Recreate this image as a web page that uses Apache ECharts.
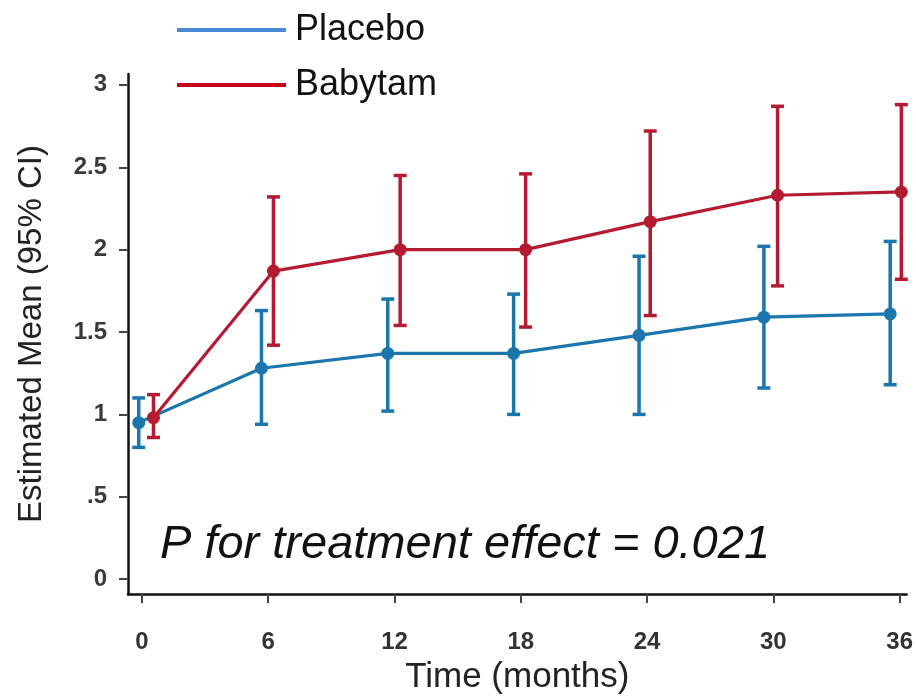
<!DOCTYPE html>
<html>
<head>
<meta charset="utf-8">
<script src="https://cdn.jsdelivr.net/npm/echarts@6/dist/echarts.min.js"></script>
<style>html,body{margin:0;padding:0;background:#fff}#c{width:916px;height:700px}</style>
</head>
<body>
<div id="c"></div>
<script>
// Data
const xTicks = [0, 6, 12, 18, 24, 30, 36];
const yTicks = [0, 0.5, 1, 1.5, 2, 2.5, 3];
const yTickLabels = ['0', '.5', '1', '1.5', '2', '2.5', '3'];

// x positions (months, slightly dodged as in the figure)
const placeboX = [-0.15, 5.68, 11.68, 17.66, 23.62, 29.55, 35.55];
const babytamX = [0.55, 6.25, 12.27, 18.23, 24.15, 30.2, 36.08];

const placeboMean = [0.95, 1.28, 1.37, 1.37, 1.48, 1.59, 1.61];
const placeboLow  = [0.80, 0.94, 1.02, 1.00, 1.00, 1.16, 1.18];
const placeboHigh = [1.10, 1.63, 1.70, 1.73, 1.96, 2.02, 2.05];

const babytamMean = [0.98, 1.87, 2.00, 2.00, 2.17, 2.33, 2.35];
const babytamLow  = [0.86, 1.42, 1.54, 1.53, 1.60, 1.78, 1.82];
const babytamHigh = [1.12, 2.32, 2.45, 2.46, 2.72, 2.87, 2.88];

const placeboColor = '#1a76ad';
const babytamColor = '#b41b32';

const zip2 = (xs, ys) => xs.map((x, i) => [x, ys[i]]);
const zip3 = (xs, lo, hi) => xs.map((x, i) => [x, lo[i], hi[i]]);

function errRender(color) {
  return function (params, api) {
    const x = api.value(0);
    const p1 = api.coord([x, api.value(1)]);
    const p2 = api.coord([x, api.value(2)]);
    const hw = 6.5;
    const st = { stroke: color, lineWidth: 3.5 };
    return {
      type: 'group',
      children: [
        { type: 'line', shape: { x1: p1[0], y1: p1[1], x2: p2[0], y2: p2[1] }, style: st },
        { type: 'line', shape: { x1: p1[0] - hw, y1: p1[1], x2: p1[0] + hw, y2: p1[1] }, style: st },
        { type: 'line', shape: { x1: p2[0] - hw, y1: p2[1], x2: p2[0] + hw, y2: p2[1] }, style: st }
      ]
    };
  };
}

const font = '"Liberation Sans", Arial, sans-serif';

const chart = echarts.init(document.getElementById('c'), null, { renderer: 'canvas' });
chart.setOption({
  animation: false,
  backgroundColor: '#fff',
  grid: { left: 128, right: 6, top: 74, bottom: 100, containLabel: false },
  legend: {
    left: 177, top: 0, padding: 0, orient: 'vertical', itemWidth: 109, itemHeight: 4, itemGap: -5,
    icon: 'rect',
    textStyle: { fontSize: 36, lineHeight: 40, color: '#111', fontFamily: font, padding: [0, 0, 20, 4] },
    data: [
      { name: 'Placebo', itemStyle: { color: '#4a8ad4' } },
      { name: 'Babytam', itemStyle: { color: '#c8001a' } }
    ]
  },
  xAxis: {
    type: 'value', min: -0.66, max: 36.33,
    name: 'Time (months)', nameLocation: 'middle', nameGap: 66,
    nameTextStyle: { fontSize: 35, color: '#222', fontFamily: font },
    axisLine: { show: true, onZero: false, lineStyle: { color: '#111', width: 2.5 } },
    axisTick: { show: true, length: 9, lineStyle: { color: '#444', width: 2 }, customValues: xTicks },
    axisLabel: { fontSize: 24, color: '#333', margin: 36, fontFamily: font, fontWeight: 'bold', customValues: xTicks },
    splitLine: { show: false }
  },
  yAxis: {
    type: 'value', min: -0.09, max: 3.066,
    name: 'Estimated Mean (95% CI)', nameLocation: 'middle', nameGap: 80, nameRotate: 90,
    nameTextStyle: { fontSize: 33, color: '#222', fontFamily: font },
    axisLine: { show: true, onZero: false, lineStyle: { color: '#111', width: 2.5 } },
    axisTick: { show: true, length: 9, lineStyle: { color: '#444', width: 2 }, customValues: yTicks },
    axisLabel: {
      fontSize: 24, color: '#3a3a3a', margin: 21, fontFamily: font, fontWeight: 'bold', customValues: yTicks,
      formatter: v => { const i = yTicks.findIndex(t => Math.abs(t - v) < 1e-9); return i >= 0 ? yTickLabels[i] : ''; }
    },
    splitLine: { show: false }
  },
  graphic: [{
    type: 'text', left: 160, top: 521,
    style: { text: 'P for treatment effect = 0.021', fontSize: 47, fontStyle: 'italic', fill: '#111', fontFamily: font }
  }],
  series: [
    { name: 'Placebo err', type: 'custom', renderItem: errRender(placeboColor), data: zip3(placeboX, placeboLow, placeboHigh), z: 2, silent: true },
    { name: 'Babytam err', type: 'custom', renderItem: errRender(babytamColor), data: zip3(babytamX, babytamLow, babytamHigh), z: 2, silent: true },
    { name: 'Placebo', type: 'line', data: zip2(placeboX, placeboMean), color: placeboColor,
      symbol: 'circle', symbolSize: 13, lineStyle: { width: 3.2, color: placeboColor }, itemStyle: { color: placeboColor }, z: 3 },
    { name: 'Babytam', type: 'line', data: zip2(babytamX, babytamMean), color: babytamColor,
      symbol: 'circle', symbolSize: 13, lineStyle: { width: 3.2, color: babytamColor }, itemStyle: { color: babytamColor }, z: 3 }
  ]
});
</script>
</body>
</html>
